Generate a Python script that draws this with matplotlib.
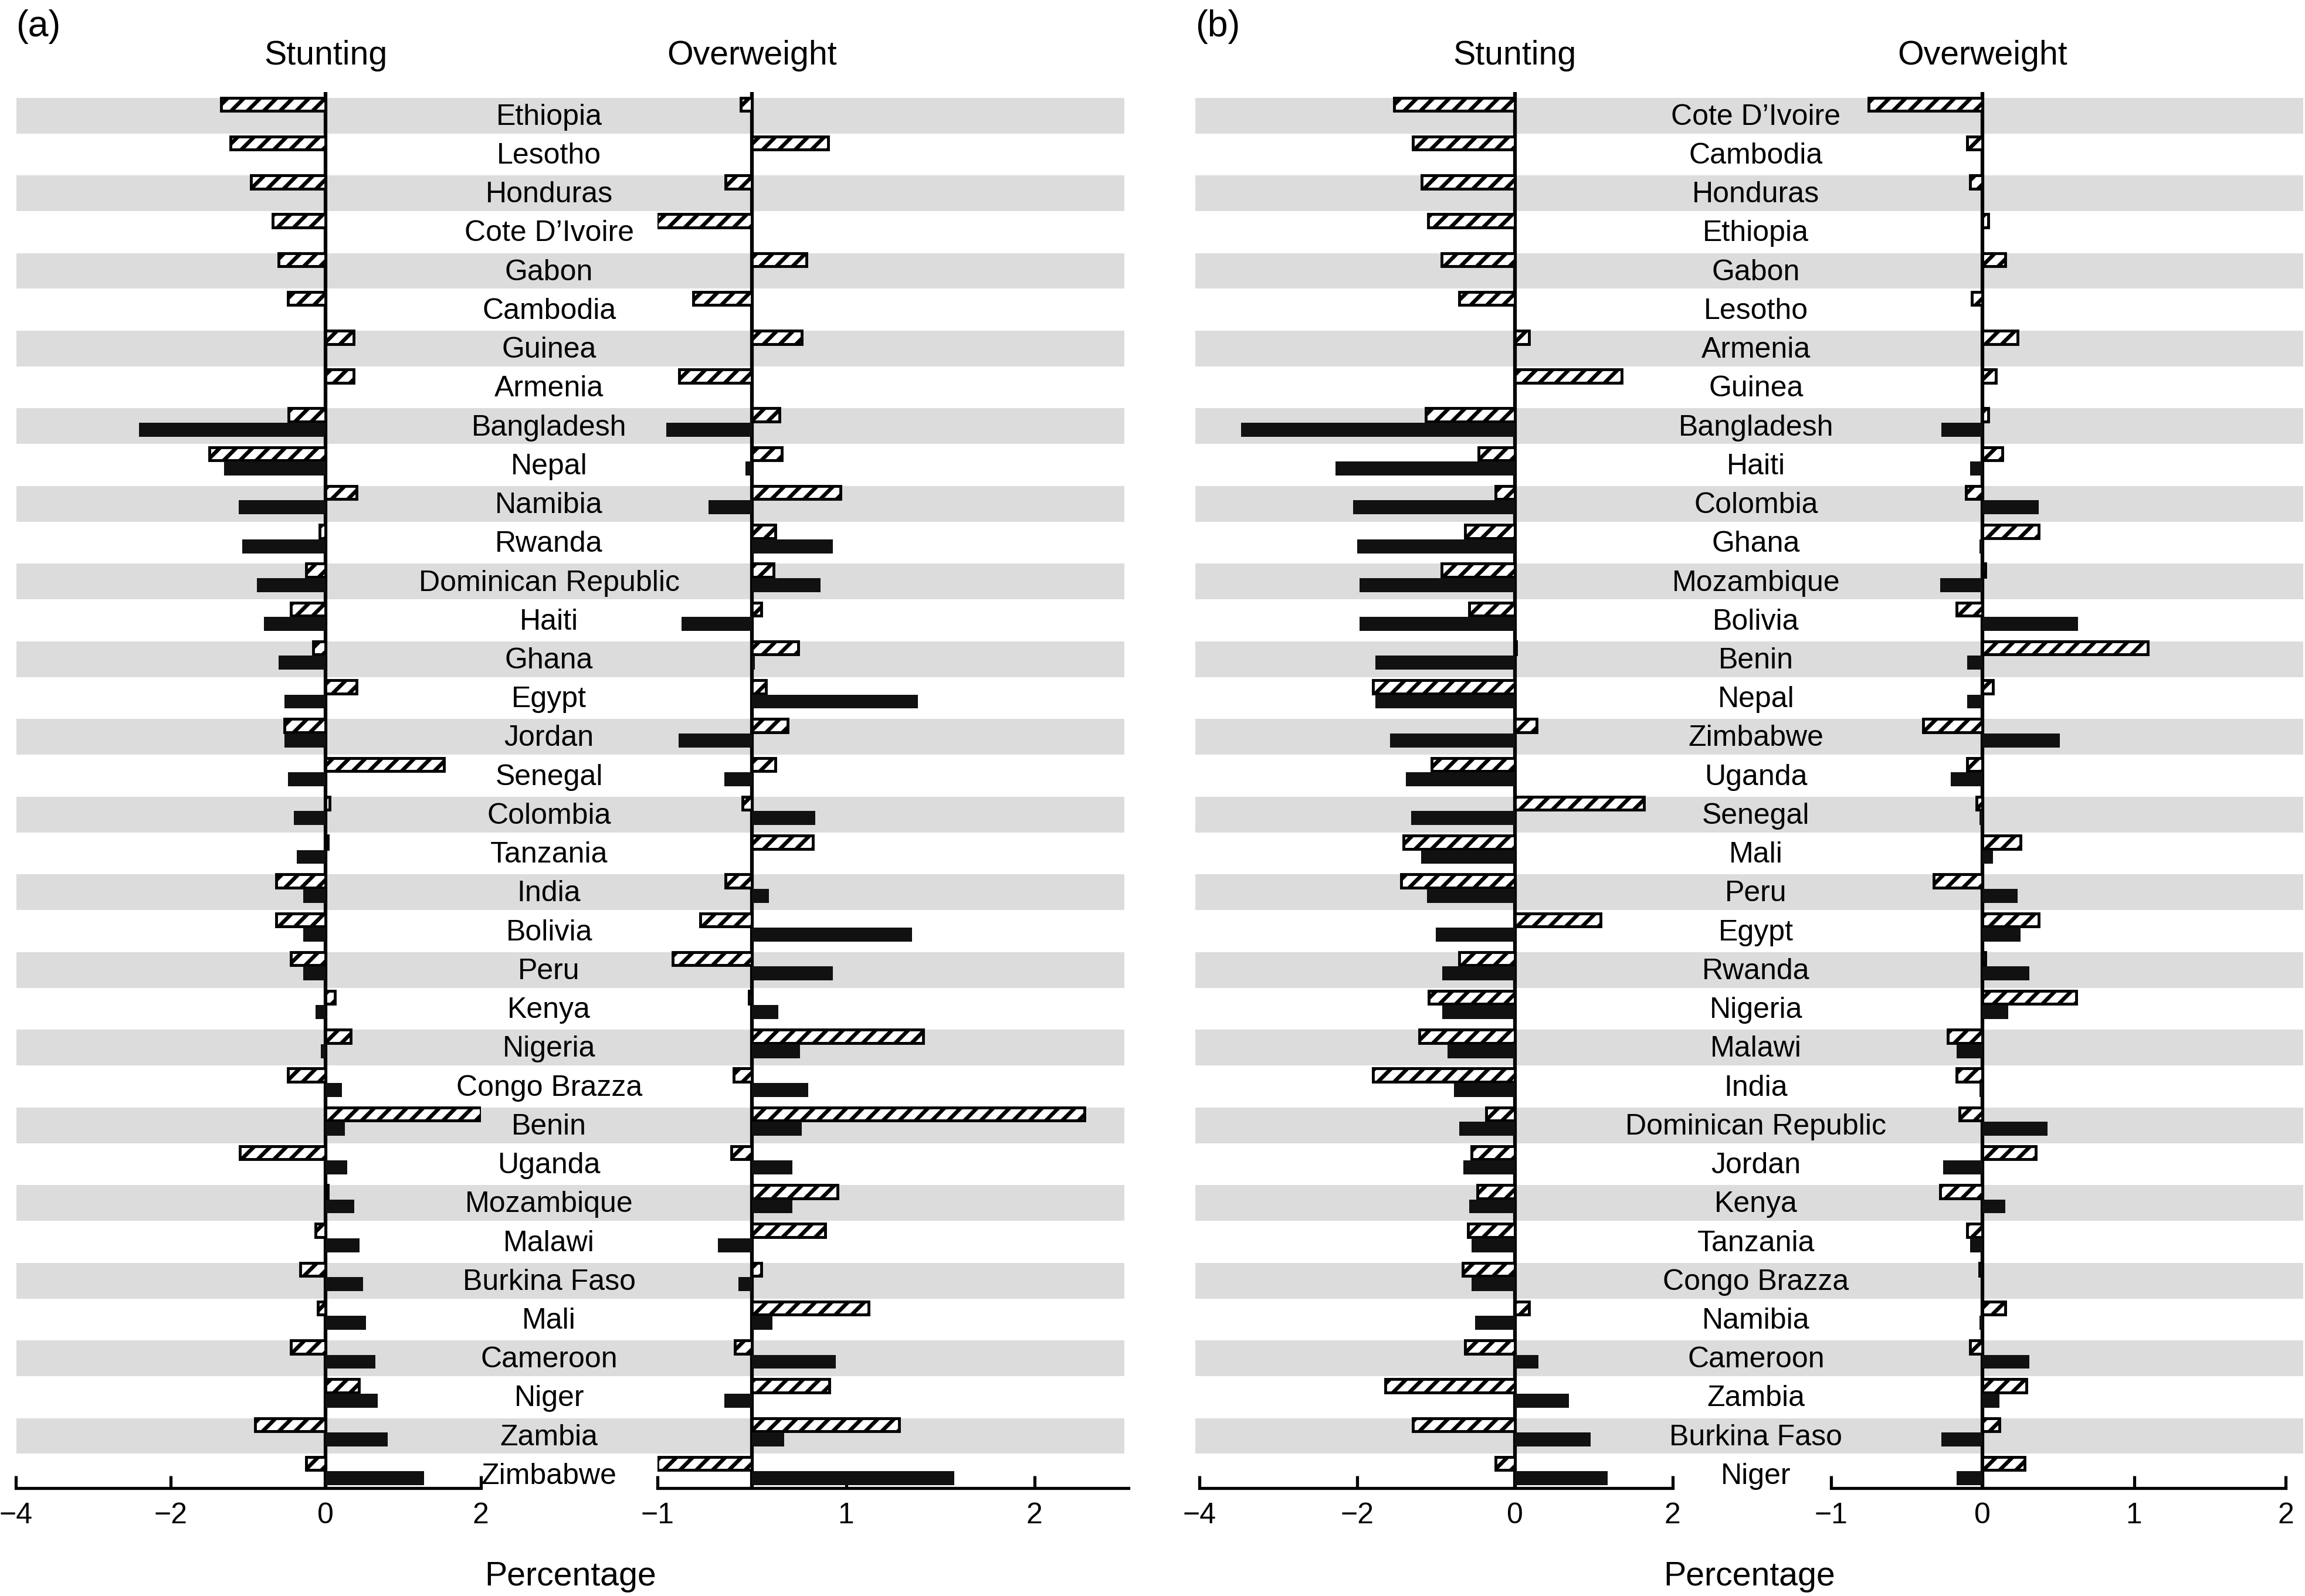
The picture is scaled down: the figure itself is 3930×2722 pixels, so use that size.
import matplotlib.pyplot as plt
import matplotlib.transforms as mtransforms
import numpy as np

plt.rcParams['font.family'] = ['Liberation Sans', 'DejaVu Sans']
plt.rcParams['hatch.linewidth'] = 1.9

# (a) countries, top to bottom
countries_a = ["Ethiopia", "Lesotho", "Honduras", "Cote D’Ivoire", "Gabon", "Cambodia",
               "Guinea", "Armenia", "Bangladesh", "Nepal", "Namibia", "Rwanda",
               "Dominican Republic", "Haiti", "Ghana", "Egypt", "Jordan", "Senegal",
               "Colombia", "Tanzania", "India", "Bolivia", "Peru", "Kenya", "Nigeria",
               "Congo Brazza", "Benin", "Uganda", "Mozambique", "Malawi", "Burkina Faso",
               "Mali", "Cameroon", "Niger", "Zambia", "Zimbabwe"]
stunting_a_hatched = [-1.35, -1.23, -0.96, -0.68, -0.61, -0.49, 0.36, 0.36, -0.48, -1.50,
                      0.40, -0.08, -0.25, -0.45, -0.16, 0.40, -0.53, 1.53, 0.05, 0.03,
                      -0.64, -0.64, -0.45, 0.12, 0.32, -0.49, 2.00, -1.11, 0.03, -0.13,
                      -0.33, -0.10, -0.45, 0.43, -0.91, -0.25]
stunting_a_solid = [0, 0, 0, 0, 0, 0, 0, 0, -2.41, -1.31, -1.12, -1.08, -0.89, -0.80,
                    -0.61, -0.53, -0.53, -0.49, -0.41, -0.37, -0.29, -0.29, -0.29, -0.13,
                    -0.06, 0.21, 0.25, 0.28, 0.37, 0.44, 0.48, 0.52, 0.64, 0.67, 0.80, 1.27]
overweight_a_hatched = [-0.12, 0.81, -0.28, -1.01, 0.58, -0.62, 0.53, -0.77, 0.29, 0.32,
                        0.94, 0.25, 0.23, 0.10, 0.49, 0.15, 0.38, 0.25, -0.10, 0.65,
                        -0.28, -0.55, -0.84, -0.03, 1.82, -0.19, 3.53, -0.22, 0.91, 0.78,
                        0.10, 1.24, -0.18, 0.82, 1.56, -1.00]
overweight_a_solid = [0, 0, 0, 0, 0, 0, 0, 0, -0.91, -0.07, -0.46, 0.86, 0.73, -0.75,
                      0.03, 1.76, -0.78, -0.29, 0.67, 0.0, 0.18, 1.70, 0.86, 0.28, 0.51,
                      0.60, 0.53, 0.43, 0.43, -0.36, -0.14, 0.22, 0.89, -0.29, 0.34, 2.15]

# (b) countries, top to bottom
countries_b = ["Cote D’Ivoire", "Cambodia", "Honduras", "Ethiopia", "Gabon", "Lesotho",
               "Armenia", "Guinea", "Bangladesh", "Haiti", "Colombia", "Ghana",
               "Mozambique", "Bolivia", "Benin", "Nepal", "Zimbabwe", "Uganda", "Senegal",
               "Mali", "Peru", "Egypt", "Rwanda", "Nigeria", "Malawi", "India",
               "Dominican Republic", "Jordan", "Kenya", "Tanzania", "Congo Brazza",
               "Namibia", "Cameroon", "Zambia", "Burkina Faso", "Niger"]
stunting_b_hatched = [-1.53, -1.29, -1.18, -1.10, -0.93, -0.70, 0.18, 1.36, -1.13, -0.46,
                      -0.24, -0.63, -0.93, -0.58, 0.02, -1.80, 0.28, -1.05, 1.64, -1.41,
                      -1.44, 1.09, -0.70, -1.09, -1.21, -1.80, -0.36, -0.55, -0.47, -0.59,
                      -0.66, 0.18, -0.63, -1.64, -1.29, -0.24]
stunting_b_solid = [0, 0, 0, 0, 0, 0, 0, 0, -3.47, -2.27, -2.05, -2.00, -1.97, -1.97,
                    -1.77, -1.77, -1.58, -1.38, -1.31, -1.19, -1.11, -1.00, -0.92, -0.92,
                    -0.85, -0.77, -0.70, -0.65, -0.58, -0.55, -0.55, -0.50, 0.30, 0.69,
                    0.96, 1.18]
overweight_b_hatched = [-0.75, -0.10, -0.08, 0.04, 0.15, -0.07, 0.23, 0.09, 0.04, 0.13,
                        -0.11, 0.37, 0.02, -0.17, 1.09, 0.07, -0.39, -0.10, -0.04, 0.25,
                        -0.32, 0.37, 0.02, 0.62, -0.23, -0.17, -0.15, 0.35, -0.28, -0.10,
                        -0.02, 0.15, -0.08, 0.29, 0.11, 0.28]
overweight_b_solid = [0, 0, 0, 0, 0, 0, 0, 0, -0.27, -0.08, 0.37, -0.02, -0.28, 0.63,
                      -0.10, -0.10, 0.51, -0.21, -0.02, 0.07, 0.23, 0.25, 0.31, 0.17,
                      -0.17, -0.02, 0.43, -0.26, 0.15, -0.08, 0.0, -0.02, 0.31, 0.11,
                      -0.27, -0.17]

stunting_ticks = [-4, -2, 0, 2]
stunting_ticklabels = ['\u22124', '\u22122', '0', '2']
overweight_a_ticks = [-1, 1, 3]
overweight_a_ticklabels = ['\u22121', '1', '2']
overweight_b_ticks = [-1, 0, 1, 2]
overweight_b_ticklabels = ['\u22121', '0', '1', '2']

# layout in reference pixels (1568 x 1086)
W = 1568.0
H = 1086.0
top_px = 62.5
bot_px = 1012.5
ylims = (35.8, -0.15)

fig = plt.figure(figsize=(15.72, 10.888), dpi=250)


def rect(x0, x1):
    return [x0 / W, 1 - bot_px / H, (x1 - x0) / W, (bot_px - top_px) / H]


def bar_axes(x0, x1, hatched, solid, xlim, ticks, ticklabels, title):
    rows = np.arange(len(hatched))
    ax = fig.add_axes(rect(x0, x1))
    ax.set_facecolor('none')
    ax.axvline(0, color='black', lw=1.8, zorder=2)
    ax.barh(rows + 0.17, hatched, height=0.34, color='white', edgecolor='black',
            hatch='///', linewidth=1.4, zorder=3)
    ax.barh(rows + 0.55, solid, height=0.36, color='#111111', linewidth=0, zorder=3)
    ax.set_xlim(xlim)
    ax.set_ylim(ylims)
    for s in ['left', 'right', 'top']:
        ax.spines[s].set_visible(False)
    ax.spines['bottom'].set_linewidth(1.5)
    ax.set_yticks([])
    ax.set_xticks(ticks)
    ax.set_xticklabels(ticklabels)
    ax.tick_params(axis='x', direction='in', length=6, width=1.5, labelsize=14.4, pad=7)
    tr = mtransforms.blended_transform_factory(ax.transData, fig.transFigure)
    ax.text(0, 1 - 38 / H, title, transform=tr, ha='center', va='center', fontsize=16.5)
    return ax


def draw_panel(letter, x_band, label_x, countries, st_h, st_s, ow_h, ow_s,
               x_st, x_ow, ow_lim, ow_ticks, ow_labels):
    bg = fig.add_axes(rect(*x_band))
    bg.set_xlim(0, 1)
    bg.set_ylim(ylims)
    bg.axis('off')
    for i in range(0, len(countries), 2):
        bg.axhspan(i, i + 0.92, color='#dcdcdc', lw=0)
    tr = mtransforms.blended_transform_factory(fig.transFigure, bg.transData)
    for i, name in enumerate(countries):
        bg.text(label_x / W, i + 0.5, name, transform=tr, ha='center', va='center',
                fontsize=14.4)

    bar_axes(x_st[0], x_st[1], st_h, st_s, (-4, 2), stunting_ticks,
             stunting_ticklabels, 'Stunting')
    bar_axes(x_ow[0], x_ow[1], ow_h, ow_s, ow_lim, ow_ticks, ow_labels, 'Overweight')

    fig.text(x_band[0] / W, 1 - 18 / H, letter, ha='left', va='center', fontsize=18)
    fig.text((x_band[0] + x_band[1]) / 2 / W, 1 - 1073 / H, 'Percentage',
             ha='center', va='center', fontsize=16.5)


draw_panel('(a)', (11, 765), 373.5, countries_a, stunting_a_hatched, stunting_a_solid,
           overweight_a_hatched, overweight_a_solid, (10.7, 327), (447.4, 767.8),
           (-1, 4), overweight_a_ticks, overweight_a_ticklabels)
draw_panel('(b)', (813, 1567), 1194.5, countries_b, stunting_b_hatched, stunting_b_solid,
           overweight_b_hatched, overweight_b_solid, (815.8, 1137.7), (1245.5, 1554.8),
           (-1, 2), overweight_b_ticks, overweight_b_ticklabels)

fig.savefig('out.png', dpi=250)
